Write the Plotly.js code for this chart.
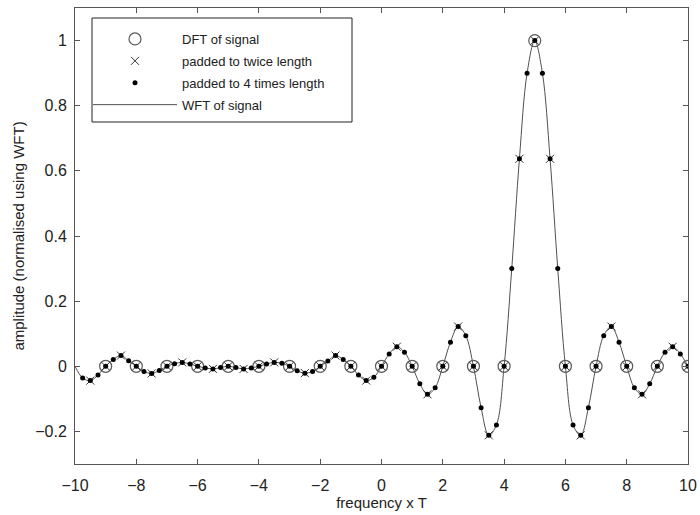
<!DOCTYPE html>
<html>
<head>
<meta charset="utf-8">
<script src="https://cdn.plot.ly/plotly-3.0.1.min.js"></script>
<style>
  html, body { margin: 0; padding: 0; background: #ffffff; }
  #chart { width: 700px; height: 515px; }
</style>
</head>
<body>
<div id="chart"></div>
<script>
// frequency x T, quarter-step grid (WFT curve samples)
const freq = [
  -10, -9.75, -9.5, -9.25, -9, -8.75, -8.5, -8.25, -8, -7.75, -7.5, -7.25,
  -7, -6.75, -6.5, -6.25, -6, -5.75, -5.5, -5.25, -5, -4.75, -4.5, -4.25,
  -4, -3.75, -3.5, -3.25, -3, -2.75, -2.5, -2.25, -2, -1.75, -1.5, -1.25,
  -1, -0.75, -0.5, -0.25, 0, 0.25, 0.5, 0.75, 1, 1.25, 1.5, 1.75,
  2, 2.25, 2.5, 2.75, 3, 3.25, 3.5, 3.75, 4, 4.25, 4.5, 4.75,
  5, 5.25, 5.5, 5.75, 6, 6.25, 6.5, 6.75, 7, 7.25, 7.5, 7.75,
  8, 8.25, 8.5, 8.75, 9, 9.25, 9.5, 9.75, 10
];
const amp = [
  0, -0.036, -0.044, -0.027, 0, 0.021, 0.033, 0.017, 0, -0.016, -0.022, -0.013,
  0, 0.008, 0.012, 0.007, 0, -0.005, -0.008, -0.004, 0, -0.004, -0.008, -0.005,
  0, 0.007, 0.012, 0.009, 0, -0.014, -0.021, -0.016, 0, 0.016, 0.033, 0.021,
  0, -0.027, -0.044, -0.034, 0, 0.038, 0.060, 0.043, 0, -0.054, -0.086, -0.066,
  0, 0.074, 0.122, 0.094, 0, -0.127, -0.212, -0.180, 0, 0.300, 0.637, 0.900,
  1, 0.900, 0.637, 0.300, 0, -0.180, -0.212, -0.127, 0, 0.094, 0.122, 0.074,
  0, -0.066, -0.086, -0.054, 0, 0.043, 0.060, 0.038, 0
];
const seriesNames = ['DFT of signal', 'padded to twice length', 'padded to 4 times length', 'WFT of signal'];
const xTicks = [-10, -8, -6, -4, -2, 0, 2, 4, 6, 8, 10];
const yTicks = [-0.2, 0, 0.2, 0.4, 0.6, 0.8, 1];

// sample subsets: DFT at integers, 2x padding at half steps, 4x padding at quarter steps
function pick(step) {
  const xs = [], ys = [];
  for (let i = 1; i < freq.length; i++) {
    if (i % step === 0) { xs.push(freq[i]); ys.push(amp[i]); }
  }
  return {xs, ys};
}
const dft = pick(4), pad2 = pick(2), pad4 = pick(1);

const traces = [
  {x: freq, y: amp, name: seriesNames[3], mode: 'lines', type: 'scatter',
   line: {color: '#505050', width: 1, shape: 'spline', smoothing: 1},
   legendrank: 4, legendgroup: 'd'},
  {x: dft.xs, y: dft.ys, name: seriesNames[0], mode: 'markers', type: 'scatter',
   marker: {symbol: 'circle-open', size: 12, color: '#5a5a5a', line: {width: 1.2, color: '#5a5a5a'}},
   legendrank: 1, legendgroup: 'a'},
  {x: pad2.xs, y: pad2.ys, name: seriesNames[1], mode: 'markers', type: 'scatter',
   marker: {symbol: 'x-thin-open', size: 8, color: '#333333', line: {width: 1, color: '#333333'}},
   legendrank: 2, legendgroup: 'b'},
  {x: pad4.xs, y: pad4.ys, name: seriesNames[2], mode: 'markers', type: 'scatter',
   marker: {symbol: 'circle', size: 5, color: '#000000'},
   legendrank: 3, legendgroup: 'c'}
];

const fontFam = 'Liberation Sans, Arial, Helvetica, sans-serif';
const L = 75, R = 12, T = 8, B = 51, W = 700, H = 515;
const pw = W - L - R, ph = H - T - B;
const px = v => (v - L) / pw;
const py = v => (H - B - v) / ph;

const layout = {
  width: W, height: H,
  margin: {l: L, r: R, t: T, b: B, pad: 0},
  paper_bgcolor: '#ffffff', plot_bgcolor: '#ffffff',
  font: {family: fontFam, size: 15, color: '#222222'},
  showlegend: true,
  legend: {
    x: px(88), y: py(24), xanchor: 'left', yanchor: 'top',
    bgcolor: 'rgba(0,0,0,0)', borderwidth: 0,
    font: {family: fontFam, size: 13, color: '#222222'},
    itemwidth: 84, tracegroupgap: 2, traceorder: 'grouped'
  },
  shapes: [
    {type: 'rect', xref: 'paper', yref: 'paper',
     x0: px(92), x1: px(352), y0: py(122), y1: py(18),
     line: {color: '#222222', width: 1}, fillcolor: 'rgba(0,0,0,0)'}
  ],
  xaxis: {
    range: [-10, 10], tickvals: xTicks, ticks: 'inside', ticklen: 5, tickcolor: '#555555',
    showline: true, linecolor: '#555555', linewidth: 1, mirror: 'ticks',
    showgrid: false, zeroline: false, tickfont: {size: 16, color: '#222222'},
    ticklabelstandoff: 7,
    title: {text: 'frequency x T', font: {size: 15, color: '#222222'}, standoff: 2}
  },
  yaxis: {
    range: [-0.3, 1.1], tickvals: yTicks, ticks: 'inside', ticklen: 5, tickcolor: '#555555',
    showline: true, linecolor: '#555555', linewidth: 1, mirror: 'ticks',
    showgrid: false, zeroline: false, tickfont: {size: 16, color: '#222222'},
    ticklabelstandoff: 4,
    title: {text: 'amplitude (normalised using WFT)', font: {size: 15, color: '#222222'}, standoff: 6}
  }
};

Plotly.newPlot('chart', traces, layout, {staticPlot: true, displayModeBar: false});
</script>
</body>
</html>
